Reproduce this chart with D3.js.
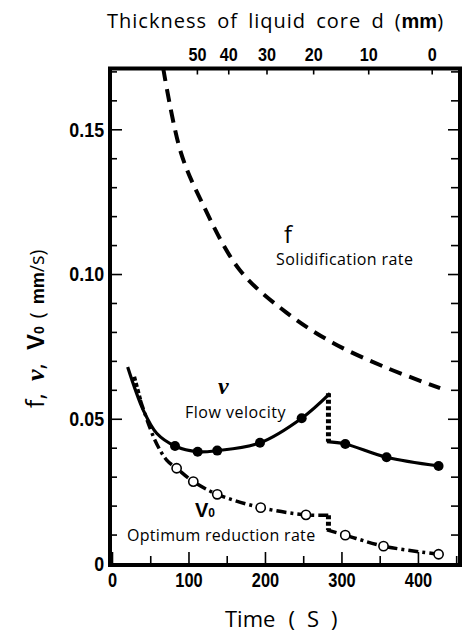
<!DOCTYPE html>
<html>
<head>
<meta charset="utf-8">
<style>
    body { margin:0; background:white; }
    .num { font-family:"Liberation Sans",Arial,sans-serif; font-weight:bold; }
    .lbl { font-family:"Open Sans","DejaVu Sans",sans-serif; }
</style>
</head>
<body>
<div id="chart"></div>
<script src="https://cdn.jsdelivr.net/npm/d3@7"></script>
<script>
// solidification rate f (dashed)
var timeF = [67, 90, 118, 167, 229, 289, 360, 429];
var rateF = [0.171, 0.142, 0.1245, 0.1014, 0.0865, 0.0762, 0.0675, 0.0606];

// flow velocity v (solid, filled dots) - two pieces either side of the step
var timeV1 = [20.5, 40.9, 58.4, 82.4, 112, 137.6, 193.5, 248, 285];
var velV1  = [0.0679, 0.0530, 0.0450, 0.0406, 0.0386, 0.0390, 0.0417, 0.0502, 0.0588];
var timeV2 = [281, 305, 359, 427];
var velV2  = [0.0421, 0.0413, 0.0367, 0.0337];
var dotTimeV = [82.4, 112, 137.6, 193.5, 248, 305, 359, 427];
var dotVelV  = [0.0406, 0.0386, 0.0390, 0.0417, 0.0502, 0.0413, 0.0367, 0.0337];

// optimum reduction rate V0 (dash-dot, open dots)
var timeR1 = [29, 37, 56, 71.5, 84.5, 106.3, 137.6, 194.4, 253.6, 285];
var rateR1 = [0.0645, 0.0565, 0.0427, 0.0357, 0.0329, 0.0283, 0.0239, 0.0193, 0.0168, 0.0167];
var timeR2 = [281, 305, 355, 427];
var rateR2 = [0.0116, 0.0098, 0.0060, 0.0032];
var dotTimeR = [84.5, 106.3, 137.6, 194.4, 253.6, 305, 355, 427];
var dotRateR = [0.0329, 0.0283, 0.0239, 0.0193, 0.0168, 0.0098, 0.0060, 0.0032];

var stepTime = 283;

// axes ticks
var xMajor = [0, 100, 200, 300, 400];
var xMinor = [50, 150, 250, 350, 450];
var yMajor = [0, 0.05, 0.10, 0.15];
var yMajorLabels = ["0", "0.05", "0.10", "0.15"];
var yMinor = [0.01, 0.02, 0.03, 0.04, 0.06, 0.07, 0.08, 0.09, 0.11, 0.12, 0.13, 0.14, 0.16, 0.17];
// liquid core thickness d (mm) on top, placed at the time it is reached
var dLabels = ["50", "40", "30", "20", "10", "0"];
var dTimes  = [111, 152, 202, 263, 335, 418];

var W = 468, H = 632;
var svg = d3.select("#chart").append("svg").attr("width", W).attr("height", H);

var x = d3.scaleLinear().domain([0, 455]).range([112, 460]);
var y = d3.scaleLinear().domain([0, 0.171]).range([563.5, 68.5]);

function zip(a, b) { return a.map(function(d, i) { return [d, b[i]]; }); }

var line = d3.line()
    .x(function(d) { return x(d[0]); })
    .y(function(d) { return y(d[1]); })
    .curve(d3.curveCatmullRom.alpha(0.5));

// axes
function strip(g) { g.select(".domain").remove(); g.selectAll("line").attr("stroke", "#000").attr("stroke-width", 1.6); }

svg.append("g").attr("transform", "translate(110,0)")
    .call(d3.axisLeft(y).tickValues(yMajor).tickSize(-12).tickPadding(7)
        .tickFormat(function(d, i) { return yMajorLabels[i]; }))
    .call(strip)
    .selectAll("text").attr("class", "num").attr("font-size", 21).attr("fill", "#000")
    .attr("transform", "scale(0.85,1)");
svg.append("g").attr("transform", "translate(110,0)")
    .call(d3.axisLeft(y).tickValues(yMinor).tickSize(-7).tickFormat(""))
    .call(strip);
svg.append("g").attr("transform", "translate(460,0)")
    .call(d3.axisRight(y).tickValues(yMajor).tickSize(-12).tickFormat(""))
    .call(strip);
svg.append("g").attr("transform", "translate(460,0)")
    .call(d3.axisRight(y).tickValues(yMinor).tickSize(-9).tickFormat(""))
    .call(strip);

svg.append("g").attr("transform", "translate(0,565)")
    .call(d3.axisBottom(x).tickValues(xMajor).tickSize(-13).tickPadding(7).tickFormat(d3.format("d")))
    .call(strip)
    .selectAll("text").attr("class", "num").attr("font-size", 21).attr("fill", "#000")
    .attr("transform", "scale(0.78,1)");
svg.append("g").attr("transform", "translate(0,565)")
    .call(d3.axisBottom(x).tickValues(xMinor).tickSize(-9).tickFormat(""))
    .call(strip);

svg.append("g").attr("transform", "translate(0,68.5)")
    .call(d3.axisTop(x).tickValues(dTimes).tickSize(-6).tickPadding(8)
        .tickFormat(function(d, i) { return dLabels[i]; }))
    .call(strip)
    .selectAll("text").attr("class", "num").attr("font-size", 18).attr("fill", "#000")
    .attr("transform", "scale(0.9,1)");

// frame
svg.append("rect").attr("x", 110).attr("y", 68.5).attr("width", 350).attr("height", 496.5)
    .attr("fill", "none").attr("stroke", "#000").attr("stroke-width", 4);

// f
svg.append("path").attr("d", line(zip(timeF, rateF)))
    .attr("fill", "none").attr("stroke", "#000").attr("stroke-width", 4).attr("stroke-dasharray", "13,8");

// v
[zip(timeV1, velV1), zip(timeV2, velV2)].forEach(function(p) {
    svg.append("path").attr("d", line(p))
        .attr("fill", "none").attr("stroke", "#000").attr("stroke-width", 3.2);
});

// V0
var r1 = zip(timeR1, rateR1);
svg.append("path").attr("d", line(r1.slice(0, 2)))
    .attr("fill", "none").attr("stroke", "#000").attr("stroke-width", 4).attr("stroke-dasharray", "4,2.5");
svg.append("path").attr("d", line(r1.slice(1)))
    .attr("fill", "none").attr("stroke", "#000").attr("stroke-width", 3.5).attr("stroke-dasharray", "10,4,3,4");
svg.append("path").attr("d", line(zip(timeR2, rateR2)))
    .attr("fill", "none").attr("stroke", "#000").attr("stroke-width", 3.5).attr("stroke-dasharray", "10,4,3,4");

// vertical steps
[[velV1[velV1.length - 1], velV2[0]], [rateR1[rateR1.length - 1], rateR2[0]]].forEach(function(s) {
    svg.append("line").attr("x1", x(stepTime)).attr("x2", x(stepTime))
        .attr("y1", y(s[0])).attr("y2", y(s[1]))
        .attr("stroke", "#000").attr("stroke-width", 5).attr("stroke-dasharray", "4,2.5");
});

// markers
svg.selectAll(".dotV").data(zip(dotTimeV, dotVelV)).enter().append("circle")
    .attr("cx", function(d) { return x(d[0]); }).attr("cy", function(d) { return y(d[1]); })
    .attr("r", 5).attr("fill", "#000");
svg.selectAll(".dotR").data(zip(dotTimeR, dotRateR)).enter().append("circle")
    .attr("cx", function(d) { return x(d[0]); }).attr("cy", function(d) { return y(d[1]); })
    .attr("r", 4.6).attr("fill", "#fff").attr("stroke", "#000").attr("stroke-width", 1.6);

// labels
function txt(xp, yp, s, cls, size) {
    return svg.append("text").attr("x", xp).attr("y", yp).attr("class", cls)
        .attr("font-size", size).attr("fill", "#000").text(s);
}
var title = txt(107, 28, "Thickness of liquid core d", "lbl", 20)
    .attr("letter-spacing", 1).attr("word-spacing", 4);
title.append("tspan").attr("dx", 10).text("(");
title.append("tspan").attr("class", "num").attr("letter-spacing", 0).text("mm");
title.append("tspan").text(")");

txt(284, 243, "f", "lbl", 24);
txt(276, 265, "Solidification rate", "lbl", 16).attr("letter-spacing", 0.4);
svg.append("text").attr("x", 218).attr("y", 394).attr("font-family", "'Liberation Serif',serif")
    .attr("font-style", "italic").attr("font-weight", "bold").attr("font-size", 24).text("v");
txt(185, 418, "Flow velocity", "lbl", 16).attr("letter-spacing", 0.5);
var v0 = txt(195, 517, "V", "num", 20);
v0.append("tspan").attr("font-size", 12).text("0");
txt(127, 541, "Optimum reduction rate", "lbl", 16).attr("letter-spacing", 0.3);

var tl = txt(225, 627, "Time", "lbl", 22);
tl.append("tspan").attr("dx", 13).text("(");
tl.append("tspan").attr("dx", 12).text("S");
tl.append("tspan").attr("dx", 12).text(")");

// y axis title, rotated
var yl = svg.append("text").attr("transform", "translate(44,408) rotate(-90)").attr("fill", "#000");
yl.append("tspan").attr("class", "lbl").attr("font-size", 25).text("f,");
yl.append("tspan").attr("dx", 12).attr("font-family", "'Liberation Serif',serif").attr("font-style", "italic")
    .attr("font-weight", "bold").attr("font-size", 26).text("v");
yl.append("tspan").attr("class", "lbl").attr("font-size", 25).text(",");
yl.append("tspan").attr("dx", 13).attr("class", "num").attr("font-size", 24).text("V");
yl.append("tspan").attr("class", "num").attr("font-size", 14).text("0");
yl.append("tspan").attr("dx", 8).attr("class", "lbl").attr("font-size", 20).text("(");
yl.append("tspan").attr("dx", 8).attr("class", "num").attr("font-size", 18).text("mm");
yl.append("tspan").attr("class", "lbl").attr("font-size", 20).text("/s)");
</script>
</body>
</html>
